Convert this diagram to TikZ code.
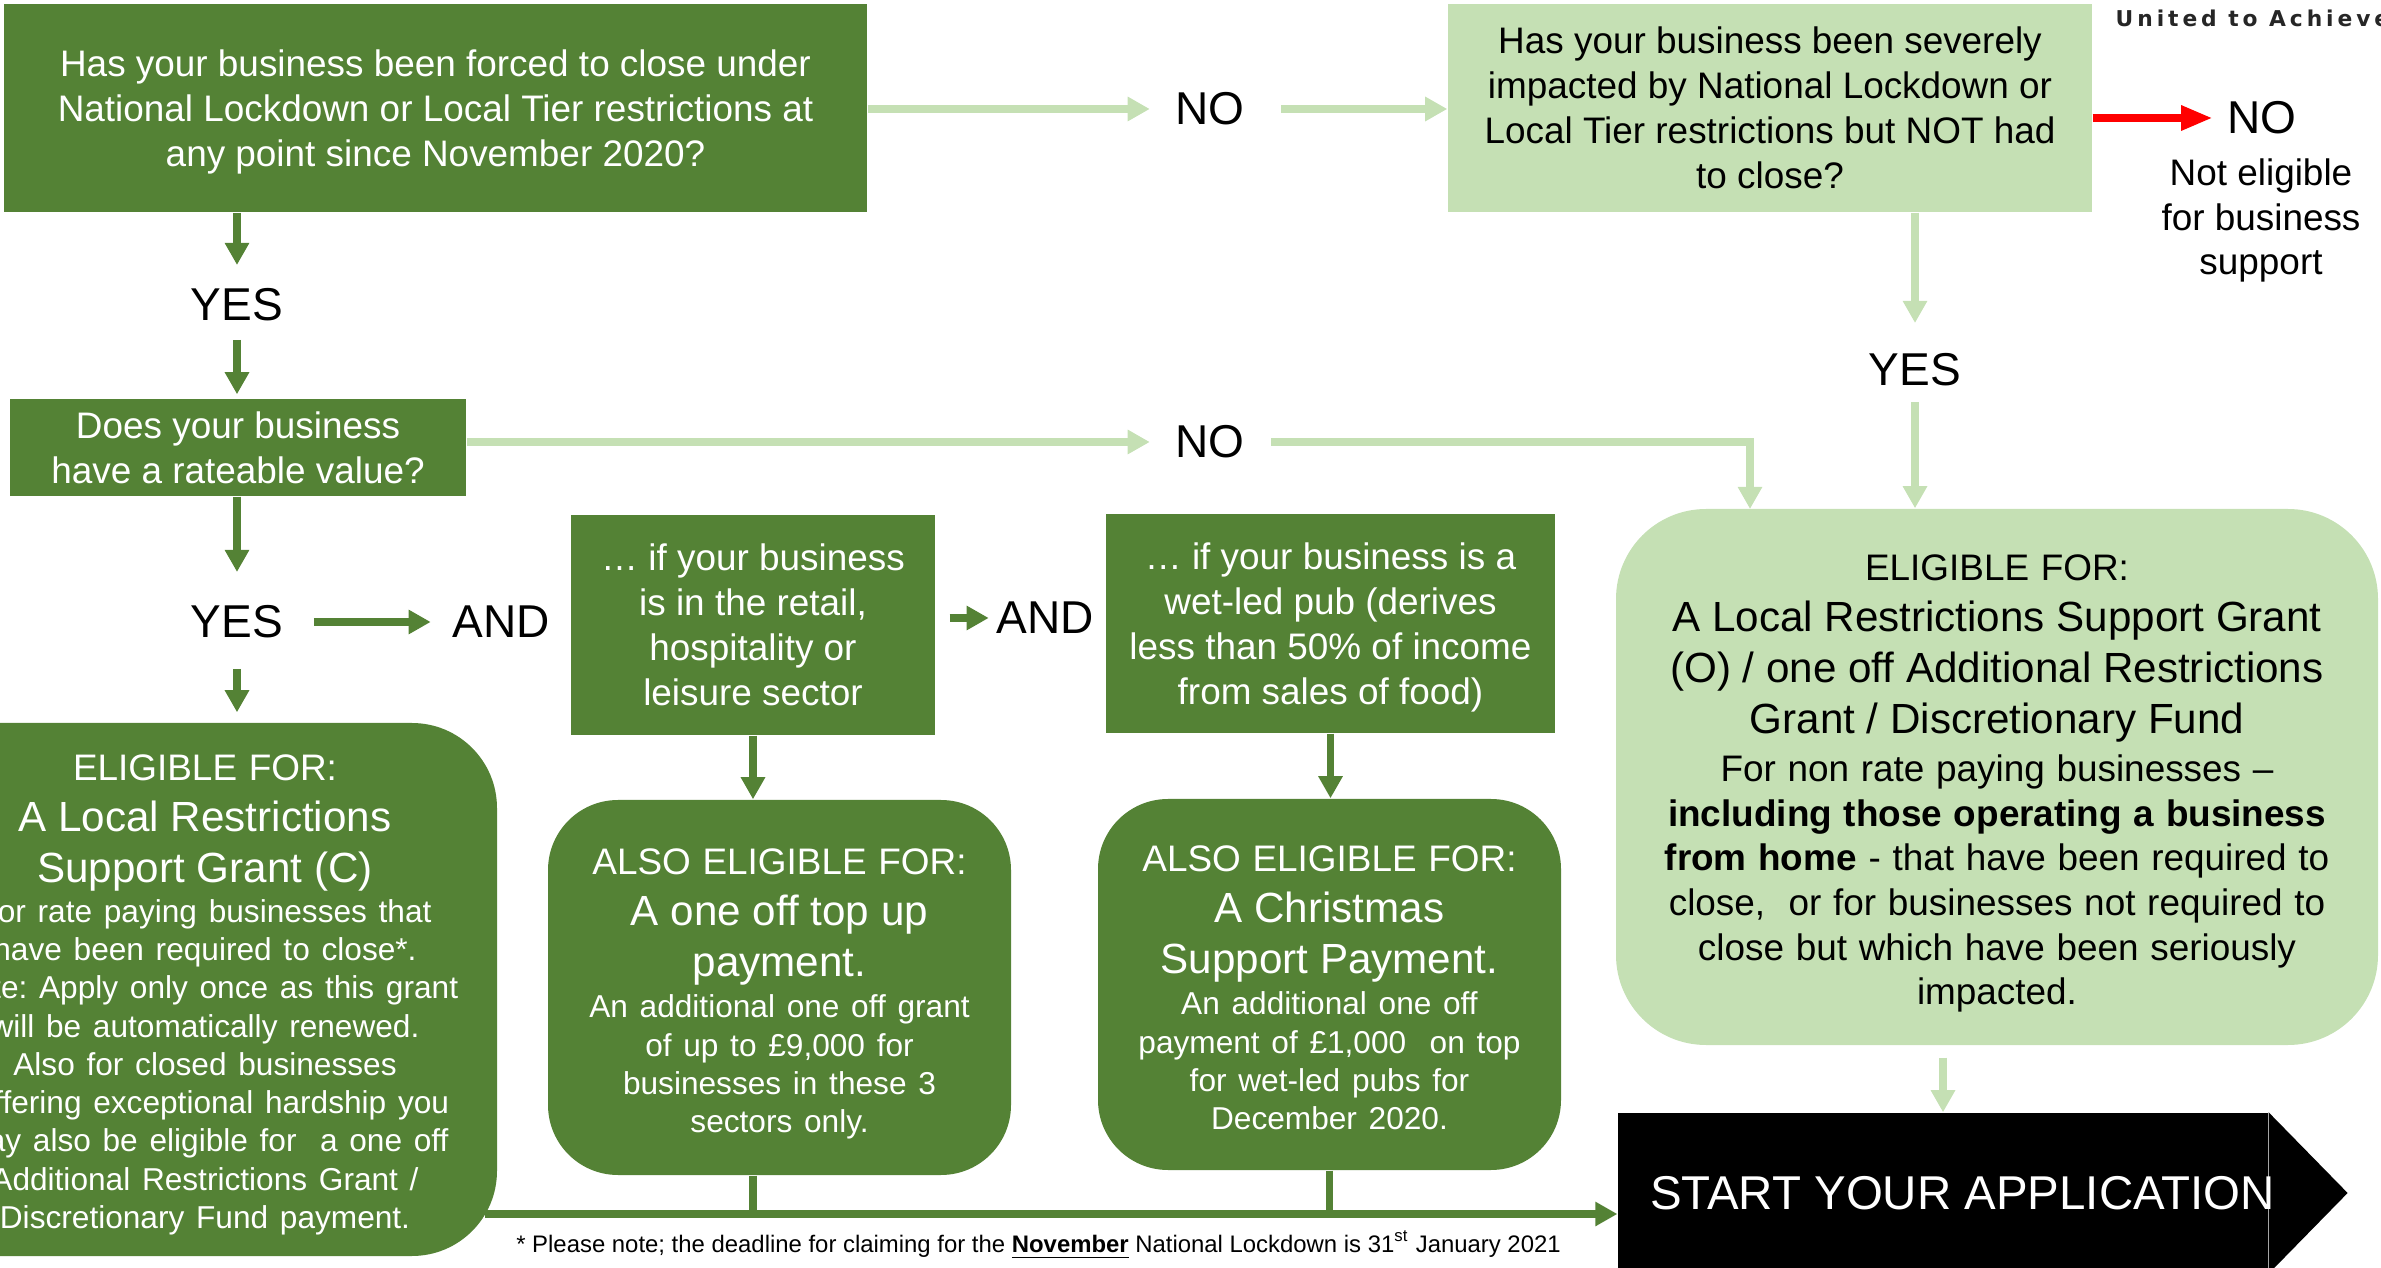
\documentclass[tikz,border=0pt]{standalone}
\usepackage{fontspec}
\setmainfont{Liberation Sans}
\newfontfamily\logofont[LetterSpace=18]{DejaVu Sans}
\usetikzlibrary{arrows.meta,backgrounds}

\definecolor{darkgrn}{HTML}{548235}
\definecolor{lightgrn}{HTML}{C5E0B4}

\newcommand\qsize{\fontsize{10.5}{12.8}\selectfont}
\newcommand\lblsize{\fontsize{13.1}{15}\selectfont}
\newcommand\headsize{\fontsize{10.5}{14}\selectfont}
\newcommand\grantsize{\fontsize{12}{14.5}\selectfont}
\newcommand\finesize{\fontsize{9}{10.9}\selectfont}
\newcommand\bodysize{\fontsize{10.5}{12.7}\selectfont}

\begin{document}
\frenchspacing
\begin{tikzpicture}[
    dbox/.style={fill=darkgrn, text=white, inner sep=0pt, align=center, text depth=0pt, font=\qsize},
    lbox/.style={fill=lightgrn, inner sep=0pt, align=center, text depth=0pt, font=\qsize},
    dround/.style={fill=darkgrn, text=white, inner sep=0pt, align=center},
    lround/.style={fill=lightgrn, inner sep=0pt, align=center},
    lbl/.style={inner sep=0pt, font=\lblsize},
    darr/.style={draw=darkgrn, line width=2.2pt, -{Triangle[length=6.3pt,width=6.6pt]}},
    larr/.style={draw=lightgrn, line width=2.5pt, -{Triangle[length=6.3pt,width=6.6pt]}},
    rarr/.style={draw=red, line width=2.5pt, -{Triangle[length=9pt,width=6.6pt]}},
    dline/.style={draw=darkgrn, line width=2pt}
]
    \useasboundingbox (0,0) rectangle (23.81,-12.68);
    \clip (0,0) rectangle (23.81,-12.68);

    % questions along the top
    \node[dbox, minimum width=8.63cm, minimum height=2.08cm] (closed) at (4.355,-1.08)
        {Has your business been forced to close under\\National Lockdown or Local Tier restrictions at\\any point since November 2020?};
    \node[lbl] (no1) at (12.10,-1.09) {NO};
    \node[lbox, minimum width=6.44cm, minimum height=2.08cm] (impacted) at (17.70,-1.08)
        {Has your business been severely\\impacted by National Lockdown or\\Local Tier restrictions but NOT had\\to close?};
    \node[lbl] (no3) at (22.62,-1.18) {NO};
    \node[inner sep=0pt, align=center, text depth=0pt, font=\bodysize] (noteligible) at (22.61,-2.17)
        {Not eligible\\for business\\support};
    \node[anchor=west, inner sep=0pt, text=black!85, font=\logofont\bfseries\fontsize{6.2}{7}\selectfont] (logo) at (21.15,-0.18)
        {United to Achieve};

    % left hand column
    \node[lbl] (yes1) at (2.37,-3.05) {YES};
    \node[dbox, minimum width=4.56cm, minimum height=0.97cm] (rateable) at (2.38,-4.475)
        {Does your business\\have a rateable value?};
    \node[lbl] (no2) at (12.10,-4.42) {NO};
    \node[lbl] (yes3) at (19.15,-3.70) {YES};
    \node[lbl] (yes2) at (2.37,-6.22) {YES};
    \node[lbl] (and1) at (5.01,-6.22) {AND};
    \node[dbox, minimum width=3.64cm, minimum height=2.20cm] (retail) at (7.53,-6.25)
        {… if your business\\is in the retail,\\hospitality or\\leisure sector};
    \node[lbl] (and2) at (10.45,-6.18) {AND};
    \node[dbox, minimum width=4.49cm, minimum height=2.19cm] (pub) at (13.305,-6.235)
        {… if your business is a\\wet-led pub (derives\\less than 50\% of income\\from sales of food)};

    % grants
    \node[dround, rounded corners=0.85cm, minimum width=5.84cm, minimum height=5.33cm, text width=5.4cm] (grantC) at (2.05,-9.895)
        {{\headsize ELIGIBLE FOR:\par}
         {\grantsize A Local Restrictions\\Support Grant (C)\par}
         \vspace{0.4pt}
         {\finesize For rate paying businesses that\\have been required to close*.\\Note: Apply only once as this grant\\will be automatically renewed.\\Also for closed businesses\\suffering exceptional hardship you\\may also be eligible for~ a one off\\Additional Restrictions Grant /\\Discretionary Fund payment.\par}
         \vspace*{-3.1pt}};
    \node[dround, rounded corners=0.7cm, minimum width=4.63cm, minimum height=3.75cm, text width=4.4cm] (topup) at (7.795,-9.875)
        {{\headsize ALSO ELIGIBLE FOR:\par}
         {\grantsize A one off top up\\payment.\par}
         \vspace{0.8pt}
         {\finesize An additional one off grant\\of up to £9,000 for\\businesses in these 3\\sectors only.\par}
         \vspace*{-3.8pt}};
    \node[dround, rounded corners=0.7cm, minimum width=4.63cm, minimum height=3.71cm, text width=4.4cm] (xmas) at (13.295,-9.845)
        {{\headsize ALSO ELIGIBLE FOR:\par}
         {\grantsize A Christmas\\Support Payment.\par}
         \vspace{0.8pt}
         {\finesize An additional one off\\payment of £1,000~ on top\\for wet-led pubs for\\December 2020.\par}
         \vspace*{-2pt}};
    \node[lround, rounded corners=0.9cm, minimum width=7.62cm, minimum height=5.36cm, text width=7.2cm, text height=11pt] (grantO) at (19.97,-7.77)
        {{\headsize ELIGIBLE FOR:\par}
         {\grantsize A Local Restrictions Support Grant\\(O) / one off Additional Restrictions\\Grant / Discretionary Fund\par}
         \vspace{1.1pt}
         {\bodysize For non rate paying businesses –\\\textbf{including those operating a business}\\\textbf{from home} - that have been required to\\close,~ or for businesses not required to\\close but which have been seriously\\impacted.\par}};

    \node[fill=black, text=white, inner sep=0pt, minimum width=6.46cm, minimum height=1.6cm, font=\fontsize{13.5}{15}\selectfont] (start) at (19.43,-11.93)
        {\hspace*{0.32cm}START YOUR APPLICATION\hspace*{-0.07cm}};
    \begin{scope}[on background layer]
        \fill (start.north east) -- ([xshift=0.79cm]start.east) -- (start.south east) -- cycle;
    \end{scope}

    \node[inner sep=0pt, font=\fontsize{6.8}{8}\selectfont] (deadline) at (10.385,-12.45)
        {* Please note; the deadline for claiming for the \textbf{\underline{November}} National Lockdown is 31\textsuperscript{st} January 2021};

    % connectors
    \draw[larr, shorten >=0.25cm] (closed.east |- no1) -- (no1.west);
    \draw[larr, shorten <=0.36cm] (no1.east) -- (impacted.west |- no1);
    \draw[rarr, shorten >=0.14cm] (impacted.east |- no3) -- (no3.west);
    \draw[larr, shorten >=0.30cm] (yes3 |- impacted.south) -- (yes3.north);
    \draw[larr, shorten <=0.15cm] (yes3.south) -- (yes3 |- grantO.north);

    \draw[darr, shorten >=0.23cm] (yes1 |- closed.south) -- (yes1.north);
    \draw[darr, shorten <=0.18cm, shorten >=0.04cm] (yes1.south) -- (yes1 |- rateable.north);
    \draw[larr, shorten >=0.25cm] (rateable.east |- no2) -- (no2.west);
    \coordinate (nohit) at (17.50,-5.09);
    \draw[larr, shorten <=0.26cm] (no2.east) -| (nohit);
    \draw[darr, shorten >=0.33cm] (yes2 |- rateable.south) -- (yes2.north);
    \draw[darr, shorten <=0.30cm, shorten >=0.10cm] (yes2.south) -- (yes2 |- grantC.north);
    \draw[darr, shorten <=0.30cm, shorten >=0.21cm] (yes2.east) -- (and1.west);
    \draw[darr, shorten <=0.14cm, shorten >=0.07cm] (retail.east |- and2) -- (and2.west);
    \draw[darr] (retail.south) -- (retail.south |- topup.north);
    \draw[darr] (pub.south) -- (pub.south |- xmas.north);
    \draw[larr, shorten <=0.12cm] (start.north |- grantO.south) -- (start.north);

    \coordinate (botL) at (4.85,-12.14);
    \draw[dline] (topup.south -| retail.south) -- (retail.south |- botL);
    \draw[dline] (xmas.south) -- (xmas.south |- botL);
    \draw[dline, -{Triangle[length=6.3pt,width=6.6pt]}] (botL) -- (botL -| start.west);
\end{tikzpicture}
\end{document}
